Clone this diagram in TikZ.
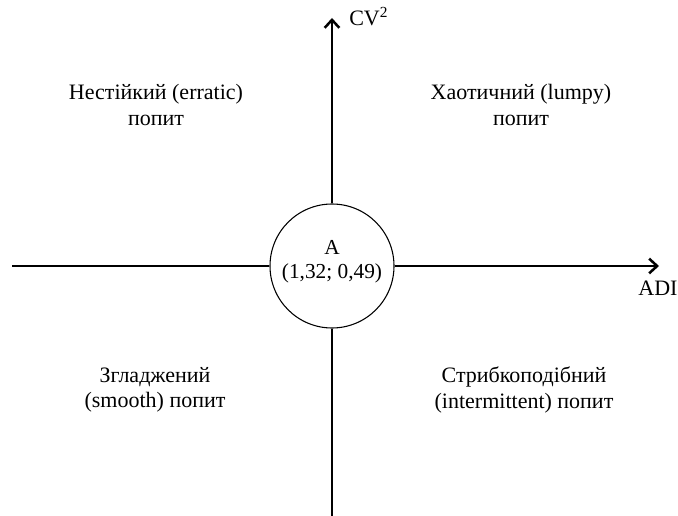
\documentclass[tikz,border=0pt]{standalone}
\usepackage{fontspec}
\setmainfont{Liberation Serif}
\usetikzlibrary{arrows.meta}
\begin{document}
\begin{tikzpicture}[x=0.75pt,y=-0.75pt,
  axis/.style={line width=1.9pt,-{Straight Barb[length=6pt,width=11pt,line width=1.9pt]}},
  plain/.style={line width=1.9pt},
  lbl/.style={font=\fontsize{16.5}{19}\selectfont,align=center,inner sep=0pt},
  ctr/.style={circle,draw,line width=0.8pt,minimum size=124*0.75pt,inner sep=0pt}]
\useasboundingbox (0,0) rectangle (678,516);
\node[ctr] (c) at (332,266) {};
\node[lbl,font=\fontsize{16}{18}\selectfont] (ct) at (332,262) {A\\(1,32; 0,49)};
\coordinate (L) at (12,266);
\coordinate (R) at (659,266);
\coordinate (T) at (332,18);
\coordinate (B) at (332,516);
\draw[plain] (L) -- (c.west);
\draw[axis] (c.east) -- (R);
\draw[axis] (c.north) -- (T);
\draw[plain] (c.south) -- (B);
\node[lbl,anchor=base west] (cv) at (349,26) {CV\textsuperscript{2}};
\node[lbl,anchor=base] (adi) at (658,296) {ADI};
\node[lbl] (q1) at (156,105) {Нестійкий (erratic)\\попит};
\node[lbl] (q2) at (521,105) {Хаотичний (lumpy)\\попит};
\node[lbl] (q3) at (155,390) {Згладжений\\(smooth) попит};
\node[lbl] (q4) at (524,390) {Стрибкоподібний\\(intermittent) попит};
\end{tikzpicture}
\end{document}
